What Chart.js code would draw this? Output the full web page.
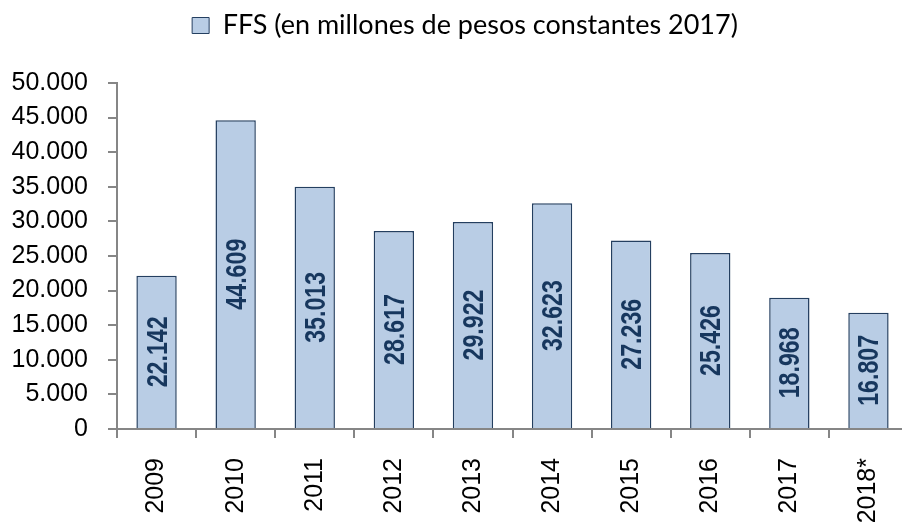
<!DOCTYPE html>
<html>
<head>
<meta charset="utf-8">
<script src="https://cdn.jsdelivr.net/npm/chart.js@4/dist/chart.umd.min.js"></script>
<style>
  html, body { margin: 0; padding: 0; background: #fff; overflow: hidden; }
  #wrap { width: 908px; height: 528px; }
</style>
</head>
<body>
<div id="wrap"><canvas id="my-chart"></canvas></div>
<script>
'use strict';

// data
const years = ['2009', '2010', '2011', '2012', '2013', '2014', '2015', '2016', '2017', '2018*'];
const ffs = [22142, 44609, 35013, 28617, 29922, 32623, 27236, 25426, 18968, 16807];
const yTicks = [0, 5000, 10000, 15000, 20000, 25000, 30000, 35000, 40000, 45000, 50000];
const seriesName = 'FFS (en millones de pesos constantes 2017)';

const sans = "'Liberation Sans', Arial, sans-serif";

function fmt(v) {
  return String(v).replace(/\B(?=(\d{3})+(?!\d))/g, '.');
}

// bar labels written sideways in the middle of each bar (squeezed a bit, like the original)
const barLabels = {
  id: 'barLabels',
  afterDatasetsDraw(chart) {
    const ctx = chart.ctx;
    const meta = chart.getDatasetMeta(0);
    ctx.save();
    ctx.font = 'bold 29px ' + sans;
    ctx.fillStyle = '#17375e';
    ctx.textAlign = 'center';
    ctx.textBaseline = 'middle';
    meta.data.forEach(function (bar, i) {
      const cy = (bar.y + bar.base) / 2;
      ctx.save();
      ctx.translate(bar.x + 1, cy);
      ctx.rotate(-Math.PI / 2);
      ctx.scale(0.8, 1);
      ctx.fillText(fmt(ffs[i]), 0, 1);
      ctx.restore();
    });
    ctx.restore();
  }
};

// legend takes a fixed strip at the top, drawn a little right of centre
const legendStrip = {
  id: 'legendStrip',
  beforeInit(chart) {
    const lg = chart.legend;
    const fit = lg.fit;
    lg.fit = function () {
      fit.call(this);
      this.height = 83;
    };
    const draw = lg.draw;
    lg.draw = function () {
      this.ctx.save();
      this.ctx.translate(11, 0);
      draw.call(this);
      this.ctx.restore();
    };
  }
};

const ctx = document.getElementById('my-chart').getContext('2d');
const chart = new Chart(ctx, {
  type: 'bar',
  data: {
    labels: years,
    datasets: [{
      label: seriesName,
      data: ffs,
      backgroundColor: '#b9cde5',
      borderColor: '#243f60',
      borderWidth: 1.5,
      barPercentage: 0.51,
      categoryPercentage: 1
    }]
  },
  options: {
    responsive: true,
    maintainAspectRatio: false,
    animation: false,
    layout: { padding: 0 },
    plugins: {
      tooltip: { enabled: false },
      legend: {
        display: true,
        position: 'top',
        labels: {
          color: '#000',
          font: { family: 'Lato, sans-serif', size: 27 },
          boxWidth: 17,
          boxHeight: 16,
          padding: 12,
          generateLabels: function (c) {
            return [{
              text: seriesName,
              fillStyle: '#b9cde5',
              strokeStyle: '#243f60',
              lineWidth: 1,
              datasetIndex: 0
            }];
          }
        }
      }
    },
    scales: {
      x: {
        afterFit: function (s) {
          s.height = 99;
          s.paddingLeft = 0;
          s.paddingRight = 0;
        },
        grid: {
          display: true,
          offset: true,
          drawOnChartArea: false,
          drawTicks: true,
          tickLength: 9,
          color: '#868686',
          lineWidth: 2
        },
        border: { color: '#868686', width: 2 },
        ticks: {
          color: '#000',
          font: { family: sans, size: 25 },
          minRotation: 90,
          maxRotation: 90,
          padding: 20,
          autoSkip: false
        }
      },
      y: {
        min: 0,
        max: 50000,
        afterFit: function (s) { s.width = 117; },
        afterBuildTicks: function (s) {
          s.ticks = yTicks.map(function (v) { return { value: v }; });
        },
        grid: {
          display: true,
          drawOnChartArea: false,
          drawTicks: true,
          tickLength: 9,
          color: '#868686',
          lineWidth: 2
        },
        border: { color: '#868686', width: 2 },
        ticks: {
          color: '#000',
          font: { family: sans, size: 25 },
          padding: 20,
          autoSkip: false,
          callback: function (v) { return fmt(v); }
        }
      }
    }
  },
  plugins: [barLabels, legendStrip]
});
</script>
</body>
</html>
